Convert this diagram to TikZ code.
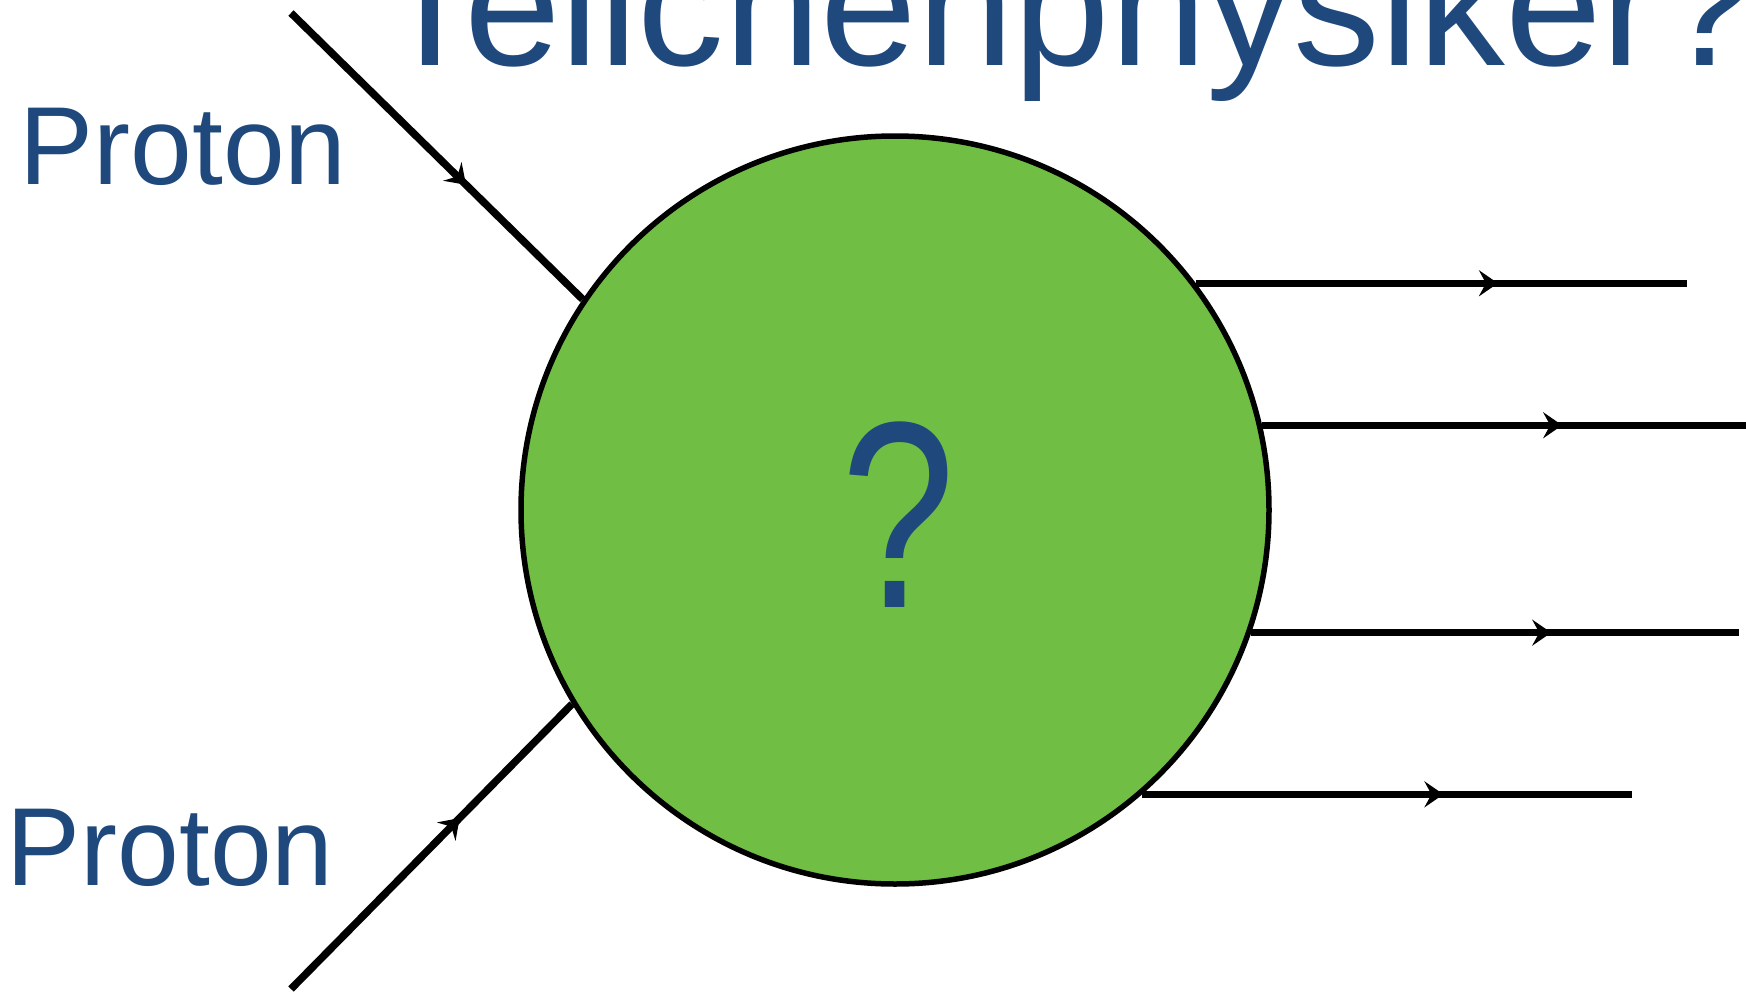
\documentclass[tikz,border=0pt]{standalone}
\usepackage{fontspec}
\usepackage{graphicx}
\setmainfont{Liberation Sans}
\usetikzlibrary{arrows.meta,decorations.markings}
\definecolor{tblue}{HTML}{1F497D}
\definecolor{tgreen}{HTML}{70BF44}
\tikzset{
  line/.style={draw=black,line width=7.5pt},
  midarrow/.style={postaction={decorate},decoration={markings,
     mark=at position #1 with {\arrow{Stealth[length=19pt,width=26pt,inset=7pt]}}}},
  lbl/.style={text=tblue,inner sep=0pt,anchor=base west}
}
\begin{document}
\begin{tikzpicture}[x=1pt,y=-1pt]
\useasboundingbox (0,0) rectangle (1746,993);
\clip (0,0) rectangle (1746,993);
\node[lbl,font=\fontsize{173.5}{200}\selectfont] (title) at (377,65) {Teilchenphysiker?};
\node[lbl,font=\fontsize{111}{130}\selectfont] (p1lbl) at (19.5,184) {Proton};
\node[lbl,font=\fontsize{111}{130}\selectfont] (p2lbl) at (6.5,885) {Proton};
\node[circle,draw=black,line width=5.5pt,fill=tgreen,minimum size=748pt,inner sep=0pt] (circ) at (895,510) {};
\node[text=tblue,inner sep=0pt,anchor=base,font=\fontsize{266}{300}\selectfont] (q) at (898,607) {\scalebox{0.77}[1]{?}};
% incoming protons
\coordinate (in1) at (291,13);
\coordinate (in2) at (291,989);
\draw[line,midarrow=0.6] (in1) -- (circ.146.4);
\draw[line,midarrow=0.6] (in2) -- (circ.211.6);
% outgoing particles
\coordinate (o1) at (1687,282);
\coordinate (o2) at (1750,425);
\coordinate (o3) at (1739,636);
\coordinate (o4) at (1632,794);
\draw[line,midarrow=0.615] (circ.37.6) -- (circ.37.6 -| o1);
\draw[line,midarrow=0.615] (circ.13.1) -- (circ.13.1 -| o2);
\draw[line,midarrow=0.615] (circ.-19.7) -- (circ.-19.7 -| o3);
\draw[line,midarrow=0.615] (circ.-49.4) -- (circ.-49.4 -| o4);
\end{tikzpicture}
\end{document}
